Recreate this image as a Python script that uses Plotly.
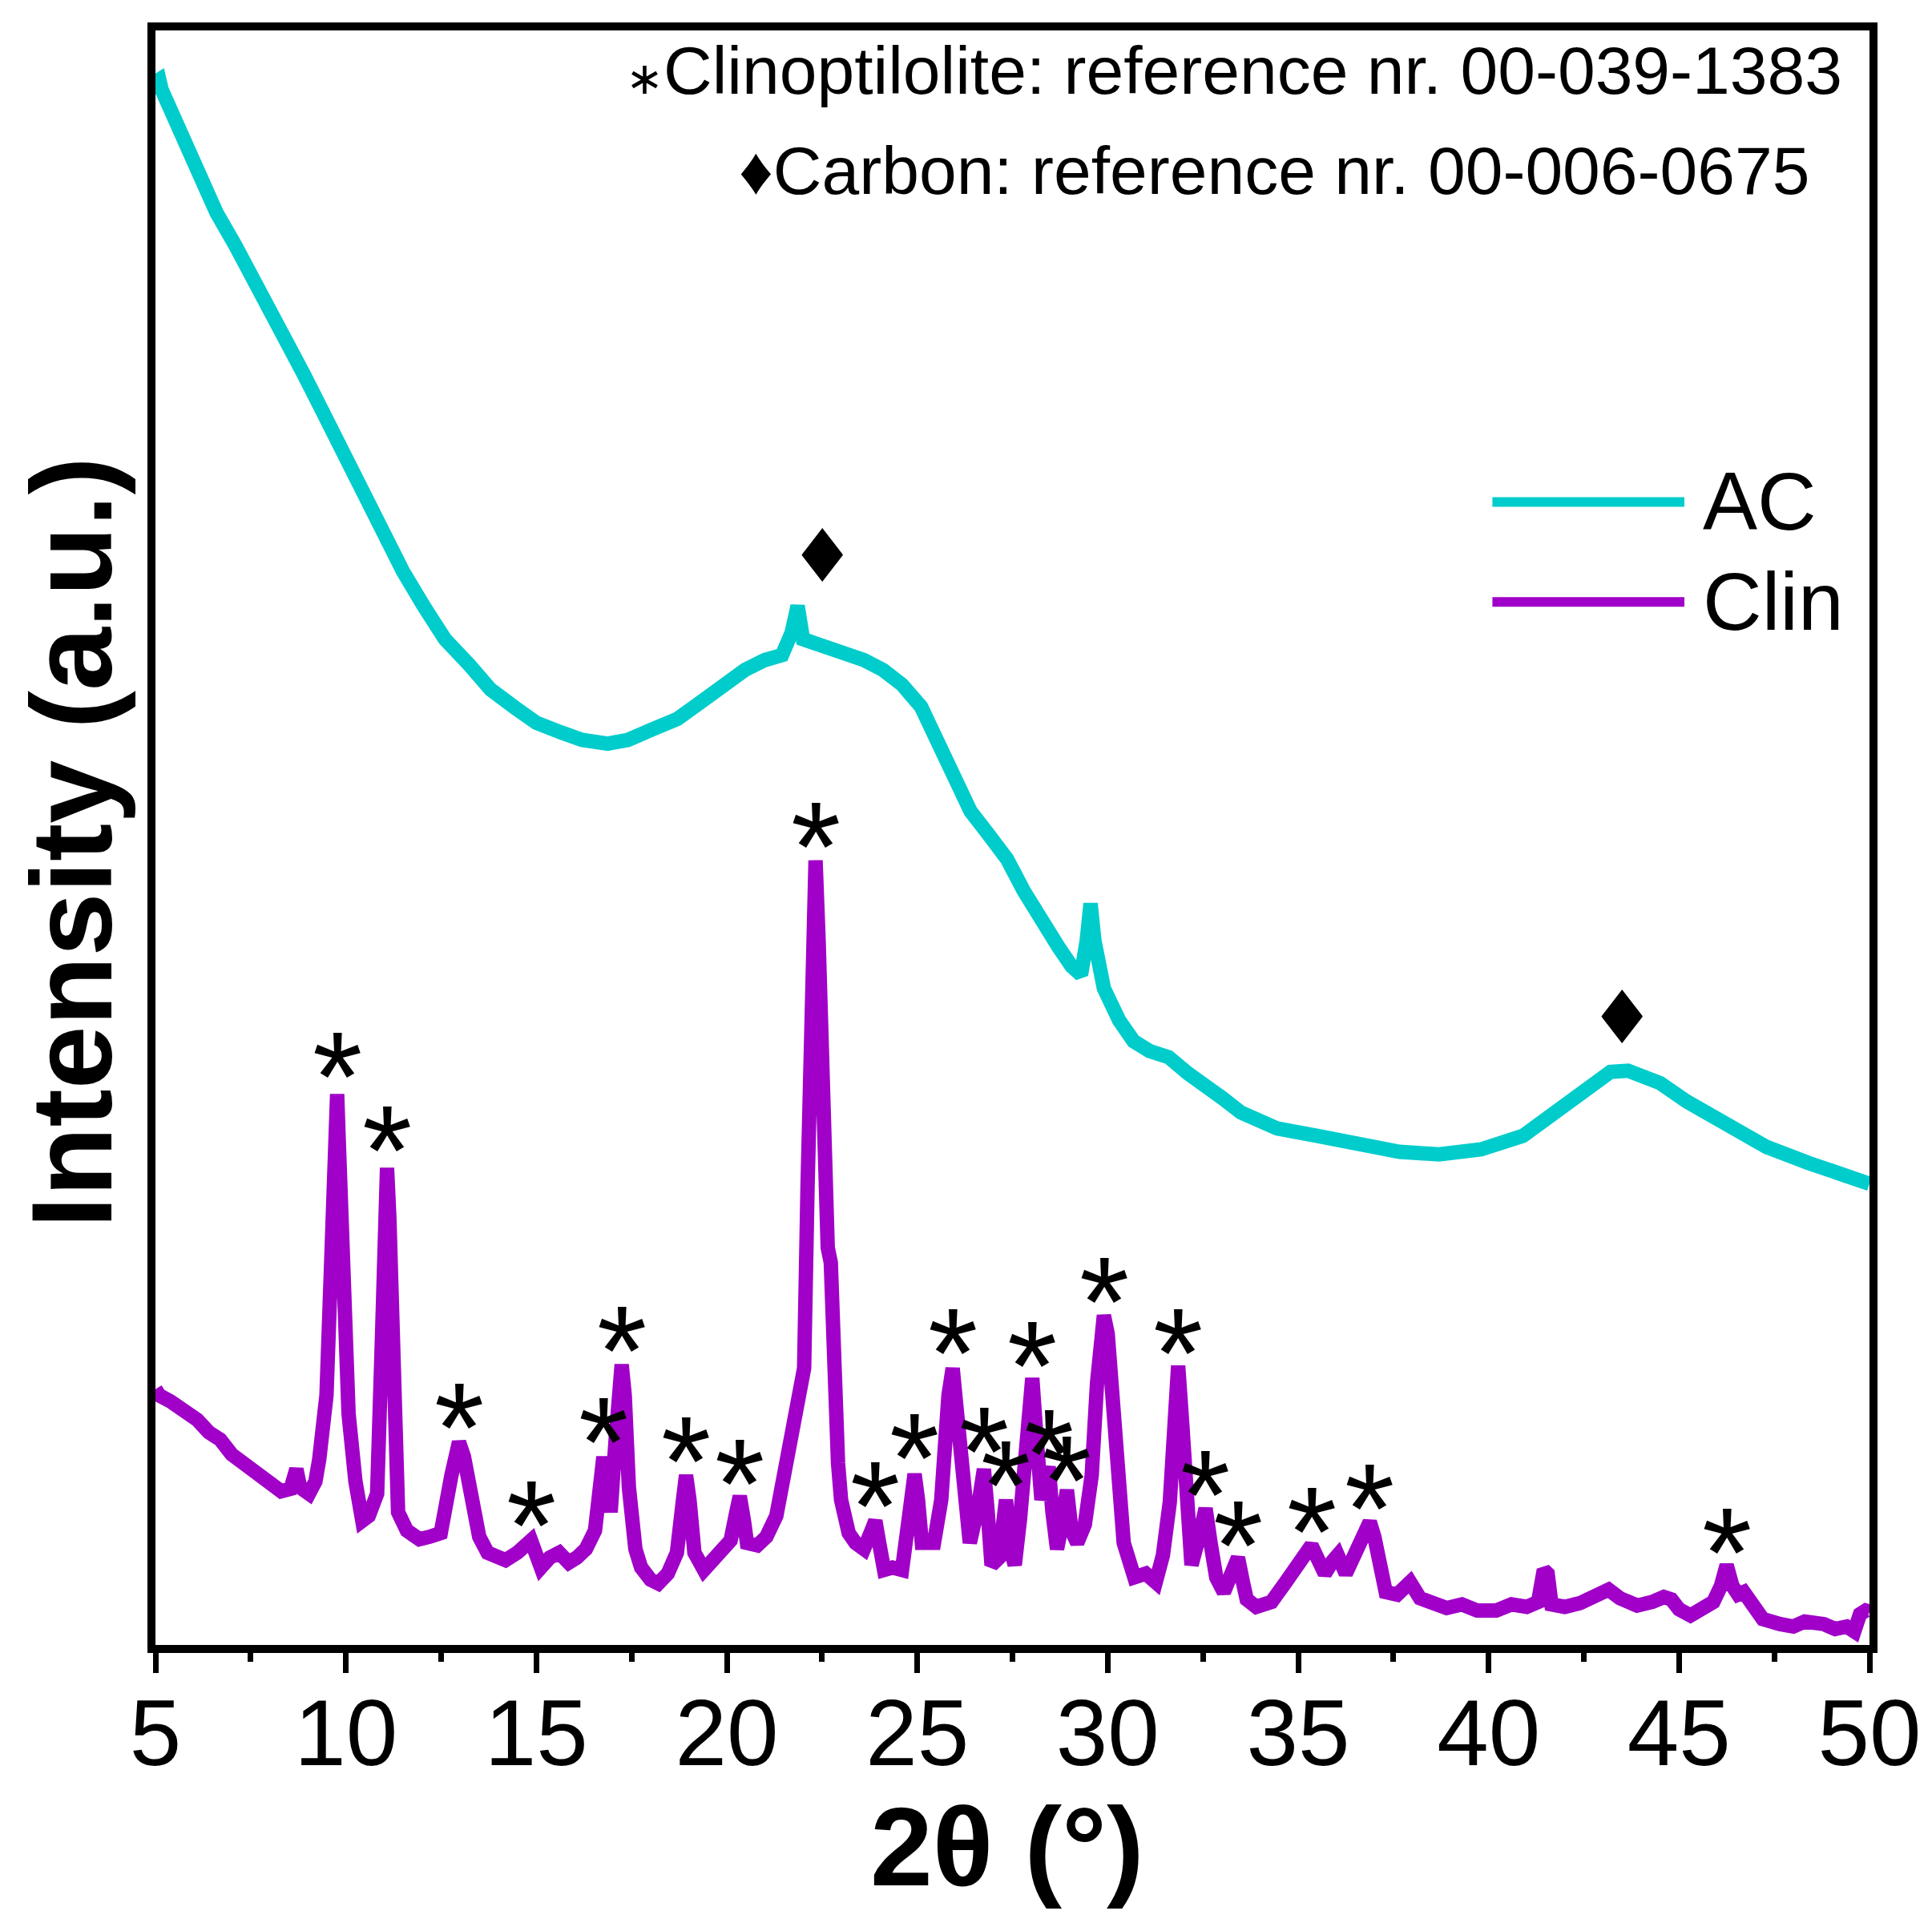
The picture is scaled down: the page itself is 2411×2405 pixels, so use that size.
import plotly.graph_objects as go

# XRD patterns (2theta in degrees, intensity in a.u.)
ac_2theta = [5.0, 5.1, 5.16, 5.4, 5.78, 6.2, 6.6, 7.1, 7.58, 8.0, 8.42, 8.9, 9.39, 9.8,
             10.23, 10.65, 11.07, 11.5, 12.04, 12.6, 13.24, 13.8, 14.45, 15.0, 15.66,
             16.2, 16.87, 17.4, 18.07, 18.7, 19.28, 19.9, 20.48, 21.0, 21.45, 21.7,
             21.86, 22.0, 22.3, 22.67, 23.1, 23.6, 24.1, 24.6, 25.1, 25.5, 25.9, 26.4,
             26.9, 27.36, 27.8, 28.3, 28.7, 29.05, 29.3, 29.45, 29.55, 29.65, 29.9,
             30.3, 30.68, 31.1, 31.6, 32.1, 32.55, 33.0, 33.5, 34.45, 35.5, 36.6, 37.66,
             38.7, 39.8, 40.9, 41.7, 42.5, 43.2, 43.66, 44.1, 44.5, 45.2, 46.2, 47.3,
             48.4, 49.45, 50.0]
ac_int = [1271, 1273, 1265, 1248, 1218, 1193, 1165, 1138, 1111, 1083, 1058, 1033, 1003, 978,
          953, 923, 896, 873, 845, 818, 797, 777, 762, 750, 742,
          736, 733, 736, 745, 753, 766, 781, 793, 801, 805, 823,
          845, 818, 815, 811, 807, 801, 793, 781, 763, 738, 708, 678,
          658, 639, 613, 586, 568, 552, 545, 573, 603, 573, 534,
          508, 491, 483, 478, 465, 456, 445, 433, 420, 414, 407, 401,
          399, 403, 414, 431, 448, 466, 467, 463, 457, 442, 423, 405,
          392, 379, 375]

clin_2theta = [5.0, 5.1, 5.4, 5.75, 6.1, 6.4, 6.7, 7.0, 7.3, 7.6, 8.0, 8.3, 8.55, 8.7, 8.8,
               9.03, 9.2, 9.3, 9.49, 9.64, 9.72, 9.77, 9.82, 9.92, 10.07, 10.25, 10.43,
               10.6, 10.82, 10.95, 11.03, 11.08, 11.14, 11.23, 11.37, 11.6, 11.93, 12.2,
               12.49, 12.77, 12.97, 13.1, 13.25, 13.5, 13.72, 14.0, 14.19, 14.5, 14.86,
               15.12, 15.35, 15.6, 15.85, 16.06, 16.3, 16.54, 16.68, 16.76, 16.85, 16.95,
               17.09, 17.18, 17.24, 17.32, 17.43, 17.6, 17.75, 18.0, 18.2, 18.45, 18.69,
               18.85, 18.93, 19.02, 19.15, 19.4, 19.6, 19.83, 20.1, 20.25, 20.34, 20.45,
               20.53, 20.8, 21.04, 21.3, 21.5, 21.78, 22.03, 22.12, 22.16, 22.24, 22.33,
               22.41, 22.48, 22.58, 22.65, 22.73, 22.82, 22.92, 23.0, 23.2, 23.38, 23.6,
               23.8, 23.9, 24.0, 24.13, 24.35, 24.6, 24.8, 24.93, 25.02, 25.12, 25.44,
               25.63, 25.82, 25.93, 26.03, 26.15, 26.25, 26.38, 26.6, 26.75, 26.85, 26.95,
               27.15, 27.33, 27.45, 27.56, 27.7, 27.8, 27.92, 28.02, 28.12, 28.26, 28.36,
               28.45, 28.55, 28.67, 28.8, 28.93, 29.05, 29.2, 29.4, 29.58, 29.72, 29.83,
               29.9, 30.0, 30.14, 30.3, 30.42, 30.7, 31.0, 31.26, 31.45, 31.63, 31.75,
               31.85, 31.95, 32.0, 32.1, 32.2, 32.4, 32.57, 32.7, 32.85, 33.05, 33.25,
               33.42, 33.55, 33.65, 33.9, 34.3, 34.65, 35.0, 35.2, 35.35, 35.5, 35.7,
               35.9, 36.04, 36.25, 36.45, 36.6, 36.75, 36.88, 37.0, 37.1, 37.3, 37.6,
               37.94, 38.2, 38.5, 38.9, 39.3, 39.7, 40.2, 40.6, 41.0, 41.3, 41.45, 41.55,
               41.65, 42.0, 42.4, 42.8, 43.15, 43.45, 43.9, 44.3, 44.6, 44.8, 45.0, 45.3,
               45.6, 45.9, 46.1, 46.25, 46.4, 46.55, 46.7, 46.9, 47.2, 47.65, 48.0, 48.3,
               48.5, 48.8, 49.1, 49.4, 49.6, 49.75, 49.9, 50.0]
clin_int = [208, 203, 198, 191, 183, 173, 167, 155, 148, 141, 133, 125, 127, 143, 128,
            123, 133, 151, 203, 318, 403, 448, 403, 318, 188, 133, 101,
            105, 123, 253, 348, 388, 348, 253, 108, 93, 86, 88,
            91, 138, 165, 153, 121, 88, 75, 71, 69, 75, 85,
            63, 71, 75, 67, 71, 78, 93, 133, 153, 133, 108,
            171, 213, 228, 203, 128, 78, 63, 53, 50, 58, 75,
            118, 138, 118, 75, 61, 68, 79, 85, 108, 121, 101,
            83, 81, 88, 105, 135, 181, 225, 373, 463, 573, 638,
            573, 463, 333, 323, 311, 203, 148, 118, 91, 83, 78,
            93, 101, 83, 61, 63, 61, 108, 139, 118, 83, 83,
            118, 203, 225, 193, 153, 133, 83, 113, 143, 108, 65,
            71, 118, 78, 65, 103, 138, 193, 217, 173, 118, 133,
            145, 108, 78, 98, 126, 93, 83, 98, 138, 213, 258,
            268, 253, 203, 123, 83, 55, 58, 51, 73, 116, 193,
            227, 183, 160, 98, 65, 88, 111, 83, 55, 43, 58,
            71, 51, 37, 31, 35, 50, 65, 75, 81, 71, 58,
            68, 73, 58, 73, 86, 95, 100, 88, 75, 43, 41,
            51, 38, 34, 30, 33, 28, 28, 33, 31, 35, 61, 58,
            33, 31, 34, 41, 45, 38, 32, 35, 39, 37, 29, 24,
            30, 35, 48, 65, 48, 41, 43, 33, 21, 17, 15, 19,
            19, 17, 13, 15, 11, 25, 28, 27]

# phase markers
clin_peaks = [9.77, 11.08, 12.97, 14.86, 16.76, 17.24, 18.93, 20.34, 22.33, 23.9, 24.93,
              25.93, 26.75, 27.33, 28.02, 28.45, 28.93, 29.9, 31.85, 32.57, 33.42, 35.35,
              36.88, 46.25]
clin_peak_int = [458, 398, 173, 93, 161, 235, 145, 127, 645, 109, 148,
                 233, 153, 126, 223, 151, 130, 275, 233, 118, 77, 88,
                 107, 71]
carbon_2theta = [22.5, 43.5]
carbon_int = [885, 510]

AC_COLOR = "#00CCCC"
CLIN_COLOR = "#A000C8"
FONT = "Liberation Sans, Arial, sans-serif"

fig = go.Figure()
fig.add_trace(go.Scatter(x=ac_2theta, y=ac_int, mode="lines", name="AC",
                         line=dict(color=AC_COLOR, width=18), showlegend=False))
fig.add_trace(go.Scatter(x=clin_2theta, y=clin_int, mode="lines", name="Clin",
                         line=dict(color=CLIN_COLOR, width=18), showlegend=False))

# asterisks over clinoptilolite reflections
for px, py in zip(clin_peaks, clin_peak_int):
    fig.add_annotation(x=px, y=py, text="*", showarrow=False, yanchor="bottom",
                       yshift=-85, font=dict(family=FONT, size=160, color="black"))

# diamonds over carbon humps
for px, py in zip(carbon_2theta, carbon_int):
    fig.add_annotation(x=px, y=py, text="♦", showarrow=False, yanchor="middle",
                       font=dict(family="DejaVu Sans", size=92, color="black"))

# reference notes in the top right corner
fig.add_annotation(xref="paper", yref="paper", x=0.985, y=0.975, xanchor="right",
                   yanchor="middle", showarrow=False,
                   text="<span style='font-size:56px'>∗</span>Clinoptilolite: reference nr. 00-039-1383",
                   font=dict(family=FONT, size=84, color="black"))
fig.add_annotation(xref="paper", yref="paper", x=0.966, y=0.913, xanchor="right",
                   yanchor="middle", showarrow=False,
                   text="♦Carbon: reference nr. 00-006-0675",
                   font=dict(family=FONT, size=84, color="black"))

# hand drawn legend (long sample lines like the original)
for name, color, ly in [("AC", AC_COLOR, 0.708), ("Clin", CLIN_COLOR, 0.646)]:
    fig.add_shape(type="line", xref="paper", yref="paper", x0=0.780, x1=0.892,
                  y0=ly, y1=ly, line=dict(color=color, width=12))
    fig.add_annotation(xref="paper", yref="paper", x=0.902, y=ly, xanchor="left",
                       yanchor="middle", showarrow=False, text=name,
                       font=dict(family=FONT, size=102, color="black"))

# axis titles
fig.add_annotation(xref="paper", yref="paper", x=0.497, y=-0.125, xanchor="center",
                   yanchor="middle", showarrow=False, text="<b>2θ (°)</b>",
                   font=dict(family=FONT, size=140, color="black"))
fig.add_annotation(xref="paper", yref="paper", x=-0.049, y=0.497, xanchor="center",
                   yanchor="middle", showarrow=False, text="<b>Intensity (a.u.)</b>",
                   textangle=-90, font=dict(family=FONT, size=142, color="black"))

fig.update_xaxes(range=[5, 50], tick0=5, dtick=5, ticks="outside", ticklen=25,
                 tickwidth=7, tickcolor="black", showline=True, linewidth=10,
                 linecolor="black", mirror=True, showgrid=False, zeroline=False,
                 ticklabelstandoff=-24,
                 tickfont=dict(family=FONT, size=116, color="black"),
                 minor=dict(dtick=2.5, ticks="outside", ticklen=11, tickwidth=7,
                            tickcolor="black", showgrid=False))
fig.update_yaxes(range=[0, 1313], showticklabels=False, ticks="", showline=True,
                 linewidth=10, linecolor="black", mirror=True, showgrid=False,
                 zeroline=False)

fig.update_layout(width=2411, height=2405, plot_bgcolor="white", paper_bgcolor="white",
                  margin=dict(l=186, r=86, t=30, b=360), showlegend=False)

fig.write_html("out.html")
